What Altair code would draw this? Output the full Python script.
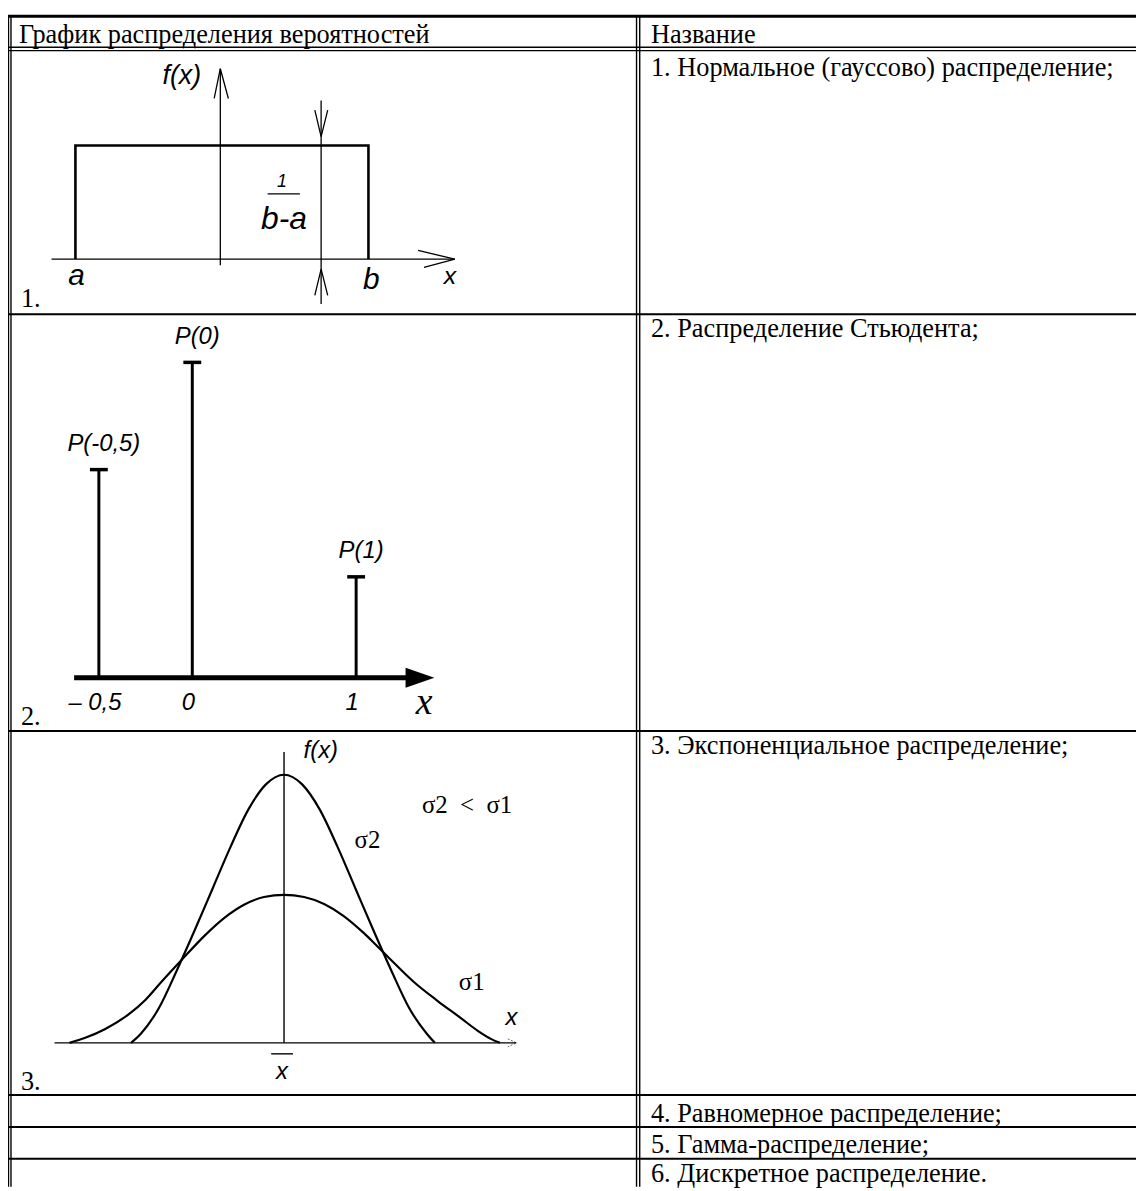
import altair as alt
import pandas as pd

# ======================= DATA =======================
header_left = "График распределения вероятностей"
header_right = "Название"
row_numbers = ["1.", "2.", "3."]
names = [
    "1. Нормальное (гауссово) распределение;",
    "2. Распределение Стьюдента;",
    "3. Экспоненциальное распределение;",
    "4. Равномерное распределение;",
    "5. Гамма-распределение;",
    "6. Дискретное распределение.",
]

# diagram 1 : uniform density on [a, b]
uni_a = -1.0
uni_b = 1.0
uni_h = 1.0 / (uni_b - uni_a)
uni_marker = 0.677
uni_labels = ["f(x)", "1", "b-a", "a", "b", "x"]

# diagram 2 : discrete distribution
disc_x = [-0.5, 0.0, 1.0]
disc_p = [0.33, 0.5, 0.16]
disc_labels = ["P(-0,5)", "P(0)", "P(1)"]
disc_ticks = ["– 0,5", "0", "1"]

# diagram 3 : two normal curves
s1_x = [-3.0, -2.78, -2.5, -2.17, -1.94, -1.72, -1.44, -1.11, -0.83, -0.56, -0.28, 0.0,
        0.28, 0.56, 0.83, 1.11, 1.28, 1.49, 1.82, 2.15, 2.46, 2.71, 2.9, 3.02]
s1_f = [0.0, 0.019, 0.052, 0.107, 0.16, 0.226, 0.307, 0.40, 0.467, 0.515, 0.544, 0.552,
        0.544, 0.518, 0.474, 0.411, 0.367, 0.311, 0.226, 0.156, 0.095, 0.045, 0.014, 0.0]
s2_x = [-2.14, -2.0, -1.75, -1.5, -1.25, -1.0, -0.75, -0.5, -0.25, 0.0,
        0.25, 0.5, 0.75, 1.0, 1.25, 1.5, 1.75, 2.0, 2.11]
s2_f = [0.0, 0.035, 0.13, 0.27, 0.42, 0.575, 0.73, 0.87, 0.965, 1.0,
        0.965, 0.87, 0.73, 0.575, 0.42, 0.27, 0.13, 0.033, 0.0]
norm_labels = ["f(x)", "x", "x", "σ2 \u00a0<\u00a0 σ1", "σ2", "σ1"]

# ======================= LAYOUT =======================
W, H = 1136, 1183
BLACK = "#000000"


def S(domain, rng):
    return alt.Scale(domain=domain, range=rng, zero=False, nice=False)


PX = S([8, 1144], [0, 1136])
PY = S([8, 1191], [0, 1183])
D1X = S([uni_a, uni_b], [67.9, 363.0])
D1Y = S([0, uni_h], [248.7, 134.3])
D2X = S([-0.632, -0.5, 0.0, 1.0, 1.478], [66.6, 91.5, 185.6, 350.6, 429.4])
D2Y = S([0, 0.5], [670.3, 352.7])
D3X = S([-3, 3], [62.0, 494.0])
D3Y = S([0, 1], [1038.0, 768.0])


def enc_xy(xs, ys, xf="x", yf="y"):
    return dict(x=alt.X(f"{xf}:Q", scale=xs, axis=None), y=alt.Y(f"{yf}:Q", scale=ys, axis=None))


def text_layer(rows, xs, ys, **kw):
    df = pd.DataFrame(rows, columns=["x", "y", "t"])
    return alt.Chart(df).mark_text(color=BLACK, **kw).encode(text="t:N", **enc_xy(xs, ys))


def path_layer(groups, xs, ys, **kw):
    rows = []
    for g, pts in groups.items():
        for i, (px, py) in enumerate(pts):
            rows.append({"g": g, "i": i, "x": px, "y": py})
    df = pd.DataFrame(rows)
    return alt.Chart(df).mark_line(color=BLACK, **kw).encode(
        detail="g:N", order="i:Q", **enc_xy(xs, ys))


def hrules(x1, x2, ys, width):
    df = pd.DataFrame({"x1": [x1] * len(ys), "x2": [x2] * len(ys), "y": ys})
    return alt.Chart(df).mark_rule(color=BLACK, strokeWidth=width).encode(
        x=alt.X("x1:Q", scale=PX, axis=None), x2="x2:Q", y=alt.Y("y:Q", scale=PY, axis=None))


def vrules(xs_, y1, y2, width):
    df = pd.DataFrame({"x": xs_, "y1": [y1] * len(xs_), "y2": [y2] * len(xs_)})
    return alt.Chart(df).mark_rule(color=BLACK, strokeWidth=width).encode(
        x=alt.X("x:Q", scale=PX, axis=None), y=alt.Y("y1:Q", scale=PY, axis=None), y2="y2:Q")


layers = []

# ---- table grid ----
layers.append(hrules(5, 1144, [12], 3))
layers.append(hrules(5, 1144, [43.3, 46.7], 1.4))
layers.append(hrules(5, 1144, [312.3, 732, 1098.5, 1130.7, 1162.7], 2))
layers.append(vrules([8.6], 11, 1191, 1.2))
layers.append(vrules([11.0], 11, 1191, 1.4))
layers.append(vrules([641.0, 644.2], 12, 1191, 1.4))

# ---- table texts ----
serif = dict(font="Liberation Serif", fontSize=26.5, align="left", baseline="alphabetic")
left_rows = [(19, 39, header_left)] + [
    (21, b, t) for b, t in zip([305, 725.5, 1093], row_numbers)]
right_rows = [(655.5, 39, header_right)] + [
    (655.5, b, t) for b, t in zip([72, 335.5, 755, 1125.5, 1157, 1186], names)]
layers.append(text_layer(left_rows + right_rows, PX, PY, **serif))

# ---- diagram 1 : uniform ----
rect = {"r": [(uni_a, 0), (uni_a, uni_h), (uni_b, uni_h), (uni_b, 0)]}
layers.append(path_layer(rect, D1X, D1Y, strokeWidth=2.6))
d1_thin = {
    "xaxis": [(-1.163, 0), (1.59, 0)],
    "xarrow": [(1.339, 0.038), (1.59, 0), (1.379, -0.036)],
    "yaxis": [(-0.011, -0.0275), (-0.011, 0.838)],
    "yarrow": [(-0.053, 0.707), (-0.011, 0.838), (0.044, 0.707)],
    "marker": [(uni_marker, -0.198), (uni_marker, 0.698)],
    "mtop": [(0.634, 0.656), (uni_marker, 0.539), (0.722, 0.656)],
    "mbot": [(0.634, -0.16), (uni_marker, -0.044), (0.722, -0.16)],
    "frac": [(0.312, 0.287), (0.532, 0.287)],
}
layers.append(path_layer(d1_thin, D1X, D1Y, strokeWidth=1.3))
sans_i = dict(font="Liberation Sans", fontStyle="italic", align="center", baseline="alphabetic")
layers.append(text_layer([(-0.274, 0.772, uni_labels[0])], D1X, D1Y, fontSize=27, **sans_i))
layers.append(text_layer([(0.41, 0.318, uni_labels[1])], D1X, D1Y, fontSize=18, **sans_i))
layers.append(text_layer([(0.424, 0.132, uni_labels[2])], D1X, D1Y, fontSize=32, **sans_i))
layers.append(text_layer([(-0.993, -0.115, uni_labels[3]), (1.02, -0.132, uni_labels[4])],
                         D1X, D1Y, fontSize=30, **sans_i))
layers.append(text_layer([(1.556, -0.111, uni_labels[5])], D1X, D1Y, fontSize=25, **sans_i))

# ---- diagram 2 : discrete ----
d2_axis = pd.DataFrame({"x": [-0.632], "x2": [1.31], "y": [0.0]})
layers.append(alt.Chart(d2_axis).mark_rule(color=BLACK, strokeWidth=5).encode(
    x=alt.X("x:Q", scale=D2X, axis=None), x2="x2:Q", y=alt.Y("y:Q", scale=D2Y, axis=None)))
tri = pd.DataFrame({"x": [1.302, 1.478], "y": [0.0157, 0.0], "y2": [-0.0157, 0.0]})
layers.append(alt.Chart(tri).mark_area(color=BLACK, orient="vertical").encode(
    x=alt.X("x:Q", scale=D2X, axis=None), y=alt.Y("y:Q", scale=D2Y, axis=None), y2="y2:Q"))
disc = pd.DataFrame({"x": disc_x, "p": disc_p, "zero": [0.0] * 3,
                     "lab": disc_labels, "tick": disc_ticks})
layers.append(alt.Chart(disc).mark_rule(color=BLACK, strokeWidth=3).encode(
    x=alt.X("x:Q", scale=D2X, axis=None), y=alt.Y("zero:Q", scale=D2Y, axis=None), y2="p:Q"))
layers.append(alt.Chart(disc).mark_tick(color=BLACK, orient="horizontal", size=18, thickness=3.5,
                                        opacity=1).encode(
    x=alt.X("x:Q", scale=D2X, axis=None), y=alt.Y("p:Q", scale=D2Y, axis=None)))
layers.append(alt.Chart(disc).mark_text(color=BLACK, dx=5, dy=-19, fontSize=24, **sans_i).encode(
    x=alt.X("x:Q", scale=D2X, axis=None), y=alt.Y("p:Q", scale=D2Y, axis=None), text="lab:N"))
layers.append(alt.Chart(disc).mark_text(color=BLACK, dx=-4, dy=32, fontSize=24, **sans_i).encode(
    x=alt.X("x:Q", scale=D2X, axis=None), y=alt.Y("zero:Q", scale=D2Y, axis=None), text="tick:N"))
layers.append(text_layer([(1.415, -0.058, "x")], D2X, D2Y, font="Liberation Serif",
                         fontStyle="italic", fontSize=38, align="center", baseline="alphabetic"))

# ---- diagram 3 : normal curves ----
curves = pd.DataFrame({
    "c": ["s1"] * len(s1_x) + ["s2"] * len(s2_x),
    "i": list(range(len(s1_x))) + list(range(len(s2_x))),
    "x": s1_x + s2_x,
    "y": s1_f + s2_f,
})
layers.append(alt.Chart(curves).mark_line(color=BLACK, strokeWidth=2.2, interpolate="monotone").encode(
    detail="c:N", order="i:Q", **enc_xy(D3X, D3Y)))
d3_thin = {
    "base": [(-3.21, 0), (3.25, 0)],
    "vert": [(0, 0), (0, 1.085)],
    "xbar": [(-0.18, -0.041), (0.125, -0.041)],
}
layers.append(path_layer(d3_thin, D3X, D3Y, strokeWidth=1.4))
layers.append(path_layer({"arr": [(3.13, 0.015), (3.25, 0), (3.13, -0.015)]}, D3X, D3Y,
                         strokeWidth=1, strokeDash=[2, 1.5], opacity=0.6))
layers.append(text_layer([(0.514, 1.063, norm_labels[0]), (3.18, 0.067, norm_labels[1]),
                          (-0.028, -0.133, norm_labels[2])], D3X, D3Y, fontSize=24, **sans_i))
layers.append(text_layer([(2.56, 0.856, norm_labels[3]), (1.167, 0.726, norm_labels[4]),
                          (2.625, 0.196, norm_labels[5])], D3X, D3Y,
                         font="Liberation Serif", fontSize=25, align="center", baseline="alphabetic"))

chart = alt.layer(*layers).resolve_scale(x="independent", y="independent").properties(
    width=W, height=H, padding=0, background="white",
    autosize=alt.AutoSizeParams(type="none"),
).configure_view(stroke=None)

chart.save("out.html", embed_options={"renderer": "svg", "actions": False})
